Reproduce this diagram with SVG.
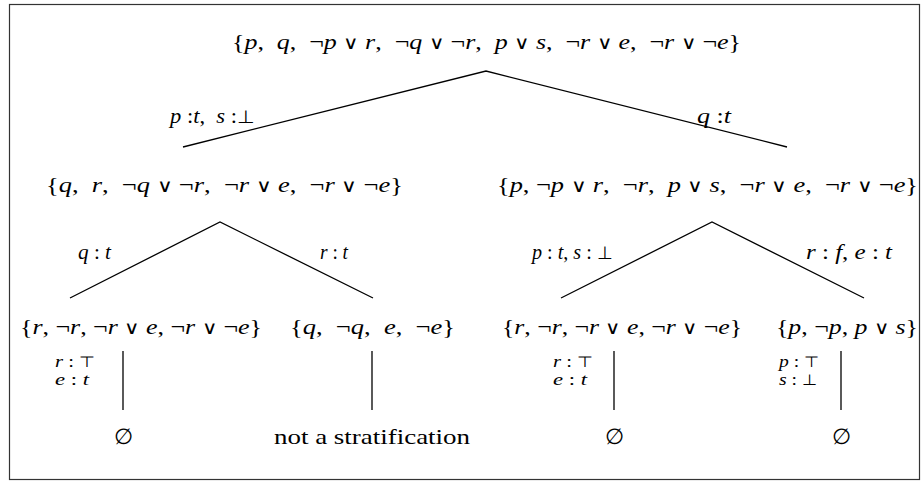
<svg xmlns="http://www.w3.org/2000/svg" width="922" height="482" viewBox="0 0 922 482">
<style>
.t{font-family:"Liberation Serif","DejaVu Serif",serif;font-size:22px;fill:#000;white-space:pre}
.l{font-size:20px}
.s{font-size:17px}
.i{font-style:italic}
.o{font-family:"DejaVu Sans",sans-serif;font-weight:200;font-size:18px}
.s .o{font-size:15px}
.e{stroke:#000;stroke-width:1.3;fill:none}
</style>
<rect x="9.5" y="4.5" width="910" height="475" fill="#fff" stroke="#333" stroke-width="1.2"/>
<g id="connectors">
<polyline class="e" points="183,147 486,71 787,147"/>
<polyline class="e" points="70,298 220,222 373,298"/>
<polyline class="e" points="561,298 712,222 864,298"/>
<line class="e" x1="123" y1="351" x2="123" y2="410"/>
<line class="e" x1="372" y1="351" x2="372" y2="410"/>
<line class="e" x1="614" y1="351" x2="614" y2="410"/>
<line class="e" x1="841" y1="351" x2="841" y2="410"/>
</g>
<g id="edge-labels">
<text class="t l" x="170" y="123" textLength="85" lengthAdjust="spacingAndGlyphs"><tspan class="i">p</tspan> :<tspan class="i">t</tspan>,  <tspan class="i">s</tspan> :<tspan class="o">⊥</tspan></text>
<text class="t l" x="697" y="123" textLength="34" lengthAdjust="spacingAndGlyphs"><tspan class="i">q</tspan> :<tspan class="i">t</tspan></text>
<text class="t l" x="78" y="259" textLength="33" lengthAdjust="spacingAndGlyphs"><tspan class="i">q</tspan> : <tspan class="i">t</tspan></text>
<text class="t l" x="320" y="259" textLength="28" lengthAdjust="spacingAndGlyphs"><tspan class="i">r</tspan> : <tspan class="i">t</tspan></text>
<text class="t l" x="532" y="259" textLength="81" lengthAdjust="spacingAndGlyphs"><tspan class="i">p</tspan> : <tspan class="i">t</tspan>, <tspan class="i">s</tspan> : <tspan class="o">⊥</tspan></text>
<text class="t l" x="806" y="259" textLength="86" lengthAdjust="spacingAndGlyphs"><tspan class="i">r</tspan> : <tspan class="i">f</tspan>, <tspan class="i">e</tspan> : <tspan class="i">t</tspan></text>
</g>
<g id="root">
<text class="t" x="232" y="49" textLength="509" lengthAdjust="spacingAndGlyphs">{<tspan class="i">p</tspan>,  <tspan class="i">q</tspan>,  ¬<tspan class="i">p</tspan> <tspan class="o">∨</tspan> <tspan class="i">r</tspan>,  ¬<tspan class="i">q</tspan> <tspan class="o">∨</tspan> ¬<tspan class="i">r</tspan>,  <tspan class="i">p</tspan> <tspan class="o">∨</tspan> <tspan class="i">s</tspan>,  ¬<tspan class="i">r</tspan> <tspan class="o">∨</tspan> <tspan class="i">e</tspan>,  ¬<tspan class="i">r</tspan> <tspan class="o">∨</tspan> ¬<tspan class="i">e</tspan>}</text>
</g>
<g id="n-left">
<text class="t" x="46" y="192" textLength="357" lengthAdjust="spacingAndGlyphs">{<tspan class="i">q</tspan>,  <tspan class="i">r</tspan>,  ¬<tspan class="i">q</tspan> <tspan class="o">∨</tspan> ¬<tspan class="i">r</tspan>,  ¬<tspan class="i">r</tspan> <tspan class="o">∨</tspan> <tspan class="i">e</tspan>,  ¬<tspan class="i">r</tspan> <tspan class="o">∨</tspan> ¬<tspan class="i">e</tspan>}</text>
</g>
<g id="n-right">
<text class="t" x="497" y="192" textLength="421" lengthAdjust="spacingAndGlyphs">{<tspan class="i">p</tspan>, ¬<tspan class="i">p</tspan> <tspan class="o">∨</tspan> <tspan class="i">r</tspan>,  ¬<tspan class="i">r</tspan>,  <tspan class="i">p</tspan> <tspan class="o">∨</tspan> <tspan class="i">s</tspan>,  ¬<tspan class="i">r</tspan> <tspan class="o">∨</tspan> <tspan class="i">e</tspan>,  ¬<tspan class="i">r</tspan> <tspan class="o">∨</tspan> ¬<tspan class="i">e</tspan>}</text>
</g>
<g id="n-ll">
<text class="t" x="20" y="334" textLength="242" lengthAdjust="spacingAndGlyphs">{<tspan class="i">r</tspan>, ¬<tspan class="i">r</tspan>, ¬<tspan class="i">r</tspan> <tspan class="o">∨</tspan> <tspan class="i">e</tspan>, ¬<tspan class="i">r</tspan> <tspan class="o">∨</tspan> ¬<tspan class="i">e</tspan>}</text>
<text class="t s" x="55" y="367" textLength="40" lengthAdjust="spacingAndGlyphs"><tspan class="i">r</tspan> : <tspan class="o">⊤</tspan></text>
<text class="t s" x="55" y="385" textLength="34" lengthAdjust="spacingAndGlyphs"><tspan class="i">e</tspan> : <tspan class="i">t</tspan></text>
</g>
<g id="n-lr">
<text class="t" x="290" y="334" textLength="165" lengthAdjust="spacingAndGlyphs">{<tspan class="i">q</tspan>,  ¬<tspan class="i">q</tspan>,  <tspan class="i">e</tspan>,  ¬<tspan class="i">e</tspan>}</text>
</g>
<g id="n-rl">
<text class="t" x="502" y="334" textLength="240" lengthAdjust="spacingAndGlyphs">{<tspan class="i">r</tspan>, ¬<tspan class="i">r</tspan>, ¬<tspan class="i">r</tspan> <tspan class="o">∨</tspan> <tspan class="i">e</tspan>, ¬<tspan class="i">r</tspan> <tspan class="o">∨</tspan> ¬<tspan class="i">e</tspan>}</text>
<text class="t s" x="553" y="367" textLength="40" lengthAdjust="spacingAndGlyphs"><tspan class="i">r</tspan> : <tspan class="o">⊤</tspan></text>
<text class="t s" x="553" y="385" textLength="34" lengthAdjust="spacingAndGlyphs"><tspan class="i">e</tspan> : <tspan class="i">t</tspan></text>
</g>
<g id="n-rr">
<text class="t" x="776" y="334" textLength="142" lengthAdjust="spacingAndGlyphs">{<tspan class="i">p</tspan>, ¬<tspan class="i">p</tspan>, <tspan class="i">p</tspan> <tspan class="o">∨</tspan> <tspan class="i">s</tspan>}</text>
<text class="t s" x="779" y="367" textLength="40" lengthAdjust="spacingAndGlyphs"><tspan class="i">p</tspan> : <tspan class="o">⊤</tspan></text>
<text class="t s" x="779" y="385" textLength="38" lengthAdjust="spacingAndGlyphs"><tspan class="i">s</tspan> : <tspan class="o">⊥</tspan></text>
</g>
<g id="leaf-1"><text class="t" x="123" y="444" text-anchor="middle">∅</text></g>
<g id="leaf-2"><text class="t" x="274" y="444" textLength="196" lengthAdjust="spacingAndGlyphs">not a stratification</text></g>
<g id="leaf-3"><text class="t" x="614" y="444" text-anchor="middle">∅</text></g>
<g id="leaf-4"><text class="t" x="841" y="444" text-anchor="middle">∅</text></g>
</svg>
